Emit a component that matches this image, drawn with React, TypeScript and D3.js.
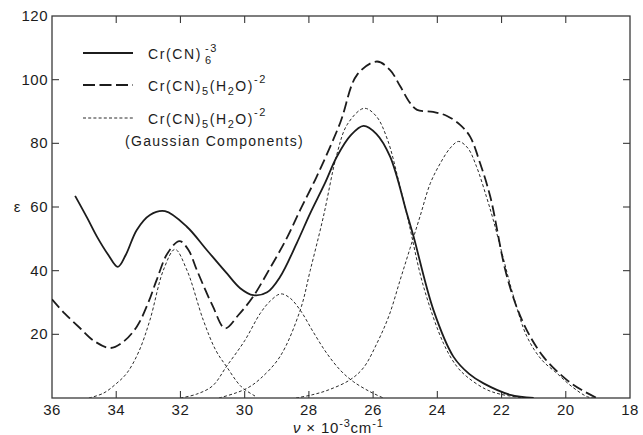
import React from "react";
import * as d3 from "d3";

// wavenumber (x 10^-3 cm^-1), epsilon
const crCN6: [number, number][] = [
  [35.28, 63.5], [34.9, 56.5], [34.6, 50.7], [34.25, 45], [33.95, 41.2], [33.7, 45],
  [33.36, 52.8], [32.95, 57.5], [32.48, 58.7], [31.8, 53.8], [31.18, 46.5], [30.56, 39.2],
  [30.14, 34.5], [29.73, 32.3], [29.3, 33.2], [28.9, 38], [28.38, 48.6], [27.96, 58],
  [27.5, 67.5], [27.13, 75.8], [26.7, 82.5], [26.3, 85.5], [25.9, 83], [25.47, 75.8],
  [24.95, 58], [24.74, 50.7], [24.12, 27.6], [23.5, 13], [23.0, 7.5], [22.56, 4.6],
  [21.73, 1], [21.0, 0],
];

const crCN5H2O: [number, number][] = [
  [36, 31], [35.6, 26.5], [35.13, 22], [34.7, 18], [34.19, 15.7], [33.8, 17.5],
  [33.36, 22.4], [33.0, 30], [32.74, 37.1], [32.4, 45.5], [32.03, 49.3], [31.75, 46.5],
  [31.49, 40.2], [31.0, 29], [30.61, 21.9], [30.2, 26], [29.74, 31.8], [29.21, 40.8],
  [28.7, 50], [28.27, 59.1], [27.76, 69.5], [27.03, 86.3], [26.5, 101.5], [25.88, 105.7],
  [25.47, 103], [25.16, 98], [24.85, 92.7], [24.63, 90.5], [24.13, 89.9], [23.7, 88.6],
  [23.29, 85.8], [22.98, 82.1], [22.67, 73.8], [22.35, 63.2], [21.83, 38.1], [21.32, 23.5],
  [20.7, 13], [19.97, 5.7], [19.5, 2.5], [19.03, 0],
];

const gauss1: [number, number][] = [
  [34.85, 0], [34.4, 1.5], [34.0, 4.5], [33.67, 7.8], [33.3, 14.5], [32.95, 24.5],
  [32.53, 40.2], [32.17, 46.7], [31.8, 40.2], [31.29, 24.5], [30.9, 15], [30.56, 9.8],
  [30.1, 3.5], [29.62, 0.3],
];

const gauss2: [number, number][] = [
  [32.0, 0], [31.5, 1.2], [31.0, 3.8], [30.56, 10], [30.0, 18], [29.52, 26.5],
  [29.2, 30.5], [28.88, 32.7], [28.6, 31.5], [28.27, 27.6], [27.85, 20.5], [27.44, 14],
  [27.0, 8.5], [26.61, 5.1], [26.1, 2], [25.68, 0],
];

const gauss3: [number, number][] = [
  [30.8, 0], [30.3, 1.5], [29.9, 3.2], [29.52, 6], [28.9, 13], [28.27, 27.6],
  [27.96, 40], [27.55, 56.9], [27.13, 76.5], [26.8, 86], [26.28, 91], [25.9, 88.5],
  [25.55, 81.1], [25.2, 68], [24.9, 55.5], [24.43, 35], [23.81, 17.2], [23.4, 10],
  [23.08, 6.7], [22.5, 2.8], [22.04, 1.2], [21.3, 0],
];

const gauss4: [number, number][] = [
  [28.4, 0], [27.9, 1], [27.4, 2.5], [26.72, 5.7], [26.3, 9.5], [25.88, 17.2],
  [25.5, 26], [25.16, 37], [24.85, 47], [24.54, 57], [24.22, 67.4], [23.91, 73.7],
  [23.6, 78.5], [23.34, 80.6], [23.05, 78.5], [22.78, 72.7], [22.47, 63.2], [22.26, 56],
  [22.0, 46], [21.6, 31], [21.21, 19.3], [20.75, 12], [20.28, 7.8], [19.8, 3.5],
  [19.33, 0.4], [19.1, 0],
];

const xTickLabels = [36, 34, 32, 30, 28, 26, 24, 22, 20, 18];
const xInnerTicks = [34, 32, 30, 28, 26, 24, 22, 20];
const yTickLabels = [20, 40, 60, 80, 100, 120];
const yInnerTicks = [20, 40, 60, 80, 100];

const INK = "#1c1c1c";
const FONT = "'Liberation Sans', Arial, sans-serif";

export default function App() {
  const left = 52, right = 630, top = 16, bottom = 398;
  const x = d3.scaleLinear().domain([36, 18]).range([left, right]);
  const y = d3.scaleLinear().domain([0, 120]).range([bottom, top]);
  const line = d3
    .line<[number, number]>()
    .x((d) => x(d[0]))
    .y((d) => Math.min(bottom, y(d[1])))
    .curve(d3.curveCatmullRom.alpha(0.5));

  const gaussians = [gauss1, gauss2, gauss3, gauss4];
  const tickLen = 7;

  return (
    <svg
      width={643}
      height={435}
      style={{ position: "absolute", left: 0, top: 0, background: "#fff" }}
      fontFamily={FONT}
    >
      <rect x={0} y={0} width={643} height={435} fill="#fff" />
      <defs>
        <clipPath id="plotClip">
          <rect x={left} y={top} width={right - left} height={bottom - top} />
        </clipPath>
      </defs>
      {/* frame */}
      <rect x={left} y={top} width={right - left} height={bottom - top} fill="none" stroke="#3a3a3a" strokeWidth={1.3} />
      {xInnerTicks.map((t) => (
        <g key={"xt" + t}>
          <line x1={x(t)} x2={x(t)} y1={bottom} y2={bottom - tickLen} stroke="#3a3a3a" strokeWidth={1.1} />
          <line x1={x(t)} x2={x(t)} y1={top} y2={top + tickLen} stroke="#3a3a3a" strokeWidth={1.1} />
        </g>
      ))}
      {yInnerTicks.map((t) => (
        <g key={"yt" + t}>
          <line x1={left} x2={left + tickLen} y1={y(t)} y2={y(t)} stroke="#3a3a3a" strokeWidth={1.1} />
          <line x1={right} x2={right - tickLen} y1={y(t)} y2={y(t)} stroke="#3a3a3a" strokeWidth={1.1} />
        </g>
      ))}
      {xTickLabels.map((t) => (
        <text key={"xl" + t} x={x(t)} y={415} textAnchor="middle" fontSize={15} fill={INK} letterSpacing={0.5}>
          {t}
        </text>
      ))}
      {yTickLabels.map((t) => (
        <text key={"yl" + t} x={48} y={y(t) + 5} textAnchor="end" fontSize={15} fill={INK} letterSpacing={0.5}>
          {t}
        </text>
      ))}
      <text x={17} y={y(60) + 5} textAnchor="middle" fontSize={15} fill={INK}>
        ε
      </text>
      {/* x axis title */}
      <text x={293} y={433} fontSize={15} fill={INK} letterSpacing={0.8}>
        <tspan fontStyle="italic">ν</tspan>
        <tspan dx={5}>×</tspan>
        <tspan dx={5}>10</tspan>
        <tspan dy={-6} fontSize={11}>-3</tspan>
        <tspan dy={6}>cm</tspan>
        <tspan dy={-6} fontSize={11}>-1</tspan>
      </text>

      {/* curves */}
      <g clipPath="url(#plotClip)">
        {gaussians.map((g, i) => (
          <path key={"g" + i} d={line(g) || ""} fill="none" stroke="#2a2a2a" strokeWidth={1} strokeDasharray="3,2.2" />
        ))}
        <path d={line(crCN5H2O) || ""} fill="none" stroke={INK} strokeWidth={1.8} strokeDasharray="11,4.5" />
        <path d={line(crCN6) || ""} fill="none" stroke={INK} strokeWidth={1.8} />
      </g>

      {/* legend */}
      <line x1={83} x2={133} y1={53} y2={53} stroke={INK} strokeWidth={1.8} />
      <line x1={83} x2={133} y1={85} y2={85} stroke={INK} strokeWidth={1.8} strokeDasharray="12,4.5" />
      <line x1={83} x2={133} y1={118} y2={118} stroke="#2a2a2a" strokeWidth={1} strokeDasharray="3,2.2" />

      <g fontSize={14} fill={INK} letterSpacing={1.6}>
        <text x={148} y={59}>Cr(CN)</text>
        <text x={205} y={64} fontSize={11}>6</text>
        <text x={205} y={52} fontSize={11}>-3</text>

        <text x={148} y={91}>
          Cr(CN)
          <tspan dy={4} fontSize={11}>5</tspan>
          <tspan dy={-4}>(H</tspan>
          <tspan dy={4} fontSize={11}>2</tspan>
          <tspan dy={-4}>O)</tspan>
          <tspan dy={-8} fontSize={11}>-2</tspan>
        </text>

        <text x={148} y={124}>
          Cr(CN)
          <tspan dy={4} fontSize={11}>5</tspan>
          <tspan dy={-4}>(H</tspan>
          <tspan dy={4} fontSize={11}>2</tspan>
          <tspan dy={-4}>O)</tspan>
          <tspan dy={-8} fontSize={11}>-2</tspan>
        </text>

        <text x={125} y={146} letterSpacing={1.3}>(Gaussian Components)</text>
      </g>
    </svg>
  );
}
